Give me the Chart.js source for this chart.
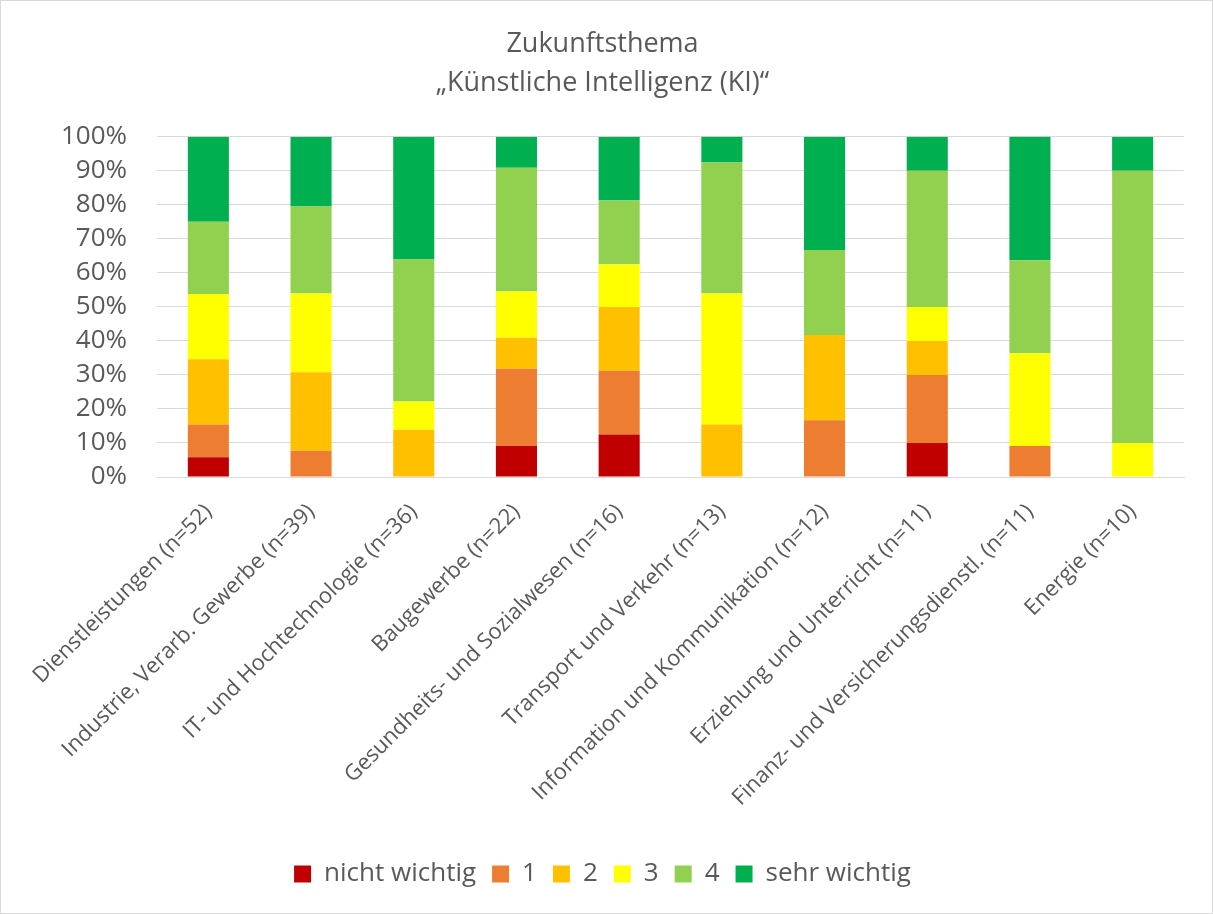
<!DOCTYPE html>
<html>
<head>
<meta charset="utf-8">
<script src="https://cdn.jsdelivr.net/npm/chart.js@4.4.0/dist/chart.umd.min.js"></script>
<style>
  html, body { margin: 0; padding: 0; background: #fff; }
  #wrap { position: absolute; left: 0; top: 0; width: 1211px; height: 912px; border: 1px solid #d9d9d9; }
  canvas { display: block; }
</style>
</head>
<body>
<div id="wrap"><canvas id="c" width="1211" height="912"></canvas></div>
<script>
const categories = [
  'Dienstleistungen (n=52)',
  'Industrie, Verarb. Gewerbe (n=39)',
  'IT- und Hochtechnologie (n=36)',
  'Baugewerbe (n=22)',
  'Gesundheits- und Sozialwesen (n=16)',
  'Transport und Verkehr (n=13)',
  'Information und Kommunikation (n=12)',
  'Erziehung und Unterricht (n=11)',
  'Finanz- und Versicherungsdienstl. (n=11)',
  'Energie (n=10)'
];
const seriesNames = ['nicht wichtig', '1', '2', '3', '4', 'sehr wichtig'];
const nichtWichtig = [5.8, 0, 0, 9.1, 12.5, 0, 0, 10, 0, 0];
const wert1       = [9.6, 7.7, 0, 22.7, 18.75, 0, 16.7, 20, 9.1, 0];
const wert2       = [19.2, 23.1, 13.9, 9.1, 18.75, 15.4, 25, 10, 0, 0];
const wert3       = [19.2, 23.1, 8.3, 13.6, 12.5, 38.5, 0, 10, 27.3, 10];
const wert4       = [21.2, 25.6, 41.7, 36.4, 18.75, 38.5, 25, 40, 27.3, 80];
const sehrWichtig = [25.0, 20.5, 36.1, 9.1, 18.75, 7.7, 33.3, 10, 36.4, 10];
const yTicks = [0, 10, 20, 30, 40, 50, 60, 70, 80, 90, 100];
const colors = ['#C00000', '#ED7D31', '#FFC000', '#FFFF00', '#92D050', '#00B050'];
const seriesValues = [nichtWichtig, wert1, wert2, wert3, wert4, sehrWichtig];

const FONT = '"Open Sans", sans-serif';
const TXT = '#595959';

new Chart(document.getElementById('c'), {
  type: 'bar',
  data: {
    labels: categories,
    datasets: seriesNames.map((name, i) => ({
      label: name,
      data: seriesValues[i],
      backgroundColor: colors[i],
      borderWidth: 0,
      categoryPercentage: 1.0,
      barPercentage: 0.4
    }))
  },
  options: {
    responsive: false,
    animation: false,
    layout: { padding: { left: 20, right: 28, top: 10, bottom: 16 } },
    plugins: {
      title: {
        display: true,
        text: ['Zukunftsthema', '„Künstliche Intelligenz (KI)“'],
        color: TXT,
        font: { family: FONT, size: 27, weight: 'normal', lineHeight: 1.44 },
        padding: { top: 14, bottom: 34 }
      },
      legend: {
        position: 'bottom',
        labels: {
          color: TXT,
          font: { family: FONT, size: 26 },
          boxWidth: 17,
          boxHeight: 17,
          padding: 16
        }
      },
      tooltip: { enabled: false }
    },
    scales: {
      x: {
        stacked: true,
        grid: { display: false },
        border: { color: '#d9d9d9', width: 1 },
        ticks: {
          color: TXT,
          font: { family: FONT, size: 22 },
          maxRotation: 45,
          minRotation: 45,
          autoSkip: false,
          padding: 14
        },
        afterFit: (s) => { s.height = 368; }
      },
      y: {
        stacked: true,
        min: 0,
        max: 100,
        afterBuildTicks: (s) => { s.ticks = yTicks.map(v => ({ value: v })); },
        grid: { color: '#d9d9d9', lineWidth: 1, drawTicks: false },
        border: { display: false },
        ticks: {
          color: TXT,
          font: { family: FONT, size: 26 },
          padding: 30,
          autoSkip: false,
          callback: (v) => v + '%'
        },
        afterFit: (s) => { s.width = 136; }
      }
    }
  }
});
</script>
</body>
</html>
